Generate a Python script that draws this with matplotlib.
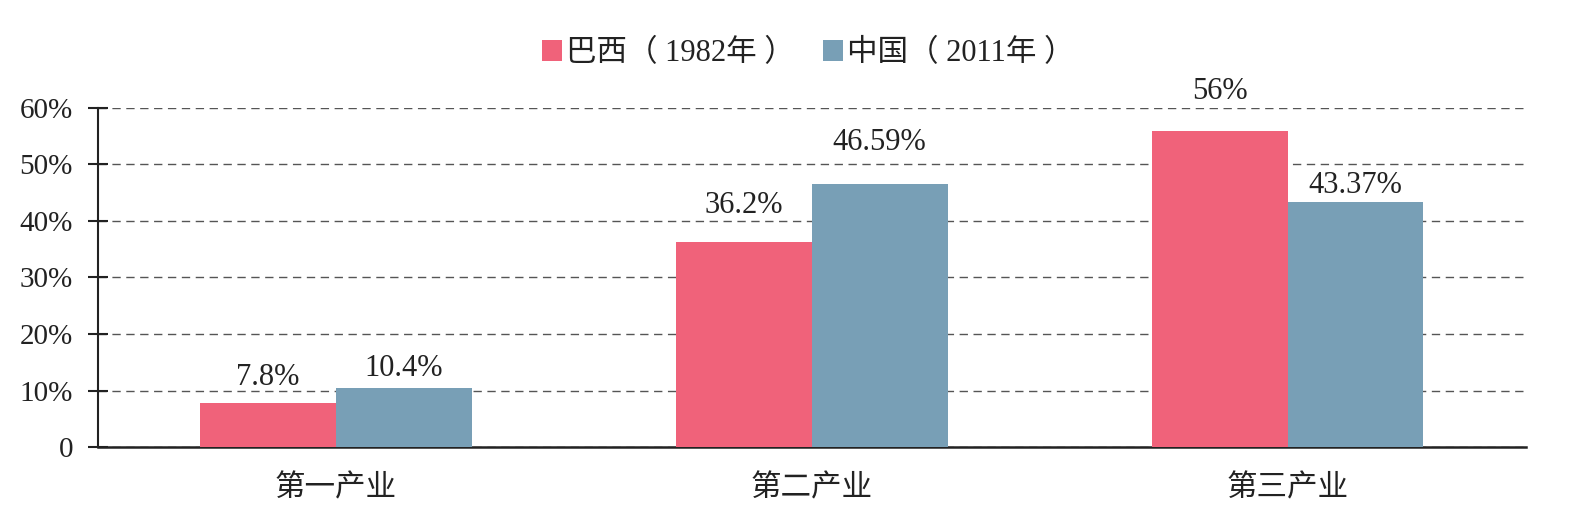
import matplotlib.pyplot as plt
import numpy as np

plt.rcParams['font.family'] = ['Liberation Serif', 'Noto Sans CJK SC']

# ---------------- 数据 ----------------
categories = ['第一产业', '第二产业', '第三产业']
brazil = [7.8, 36.2, 56]
china = [10.4, 46.59, 43.37]
brazil_labels = ['7.8%', '36.2%', '56%']
china_labels = ['10.4%', '46.59%', '43.37%']
series_names = ['巴西（ 1982年 ）', '中国（ 2011年 ）']
yticks = [0, 10, 20, 30, 40, 50, 60]
ytick_labels = ['0', '10%', '20%', '30%', '40%', '50%', '60%']

c_brazil = '#F0627A'
c_china = '#789FB6'
txt = '#222222'

# 数值标签与柱顶的距离（磅），原图各不相同
brazil_pad = [13, 21, 23]
china_pad = [9, 24, 6.5]

fig = plt.figure(figsize=(15.86, 5.21), dpi=100)
ax = fig.add_axes([0.0618, 0.142, 0.9002, 0.6508])

x = np.arange(len(categories))
w = 0.285
b1 = ax.bar(x - w / 2, brazil, w, color=c_brazil, label=series_names[0], zorder=3)
b2 = ax.bar(x + w / 2, china, w, color=c_china, label=series_names[1], zorder=3)

for bars, labs, pads in [(b1, brazil_labels, brazil_pad), (b2, china_labels, china_pad)]:
    for rect, lab, p in zip(bars, labs, pads):
        ax.annotate(lab, (rect.get_x() + rect.get_width() / 2, rect.get_height()),
                    xytext=(0, p), textcoords='offset points',
                    ha='center', va='baseline', fontsize=22, color=txt,
                    annotation_clip=False)

ax.set_xlim(-0.5, 2.5)
ax.set_ylim(0, 60)
ax.set_yticks(yticks)
ax.set_yticklabels(ytick_labels, fontsize=21, color=txt)
ax.set_xticks(x)
ax.set_xticklabels(categories, fontsize=22, color=txt)
ax.tick_params(axis='x', length=0, pad=20)
ax.tick_params(axis='y', length=14, width=1.5, direction='inout', pad=11, colors=txt)

ax.yaxis.grid(True, linestyle=(0, (6, 4)), color='#555555', linewidth=1, zorder=0)
for s in ['top', 'right']:
    ax.spines[s].set_visible(False)
ax.spines['left'].set_linewidth(1.5)
ax.spines['bottom'].set_linewidth(1.8)
ax.spines['left'].set_color(txt)
ax.spines['bottom'].set_color(txt)

ax.legend(loc='center', bbox_to_anchor=(0.4975, 1.16), ncol=2, frameon=False,
          fontsize=22, handlelength=0.65, handleheight=0.65, columnspacing=0.9,
          handletextpad=0.15, labelcolor=txt)

plt.savefig('out.png', dpi=100)
